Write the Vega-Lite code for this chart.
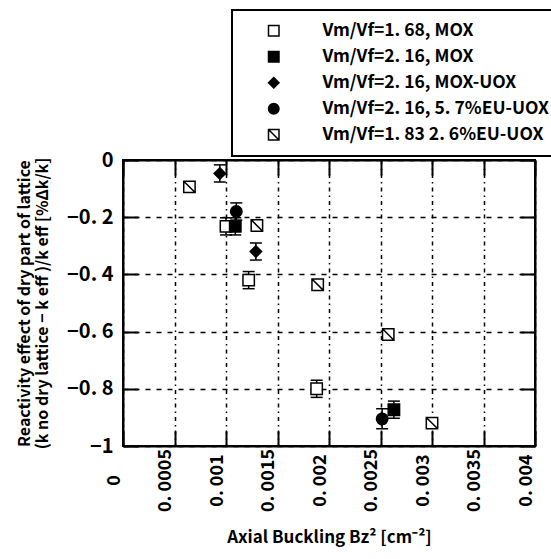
{
  "$schema": "https://vega.github.io/schema/vega-lite/v6.json",
  "autosize": {"type": "none"},
  "padding": {"left": 123, "top": 160, "right": 16, "bottom": 113},
  "width": 412,
  "height": 286,
  "background": "white",
  "config": {
    "view": {"stroke": "black", "strokeWidth": 2},
    "font": "Noto Sans CJK JP",
    "legend": {"strokeWidth": 2},
    "axis": {
      "labelFont": "Noto Sans CJK JP",
      "labelFontWeight": "bold",
      "labelColor": "black",
      "titleFont": "Noto Sans CJK JP",
      "titleFontWeight": "bold",
      "titleColor": "black",
      "domainColor": "black",
      "domainWidth": 2,
      "tickColor": "black",
      "tickWidth": 2,
      "gridColor": "black",
      "gridOpacity": 1
    }
  },
  "data": {
    "values": [
      {"series": "Vm/Vf=1. 68, MOX", "x": 0.00100, "y": -0.232, "lo": -0.262, "hi": -0.202},
      {"series": "Vm/Vf=1. 68, MOX", "x": 0.00122, "y": -0.420, "lo": -0.450, "hi": -0.390},
      {"series": "Vm/Vf=1. 68, MOX", "x": 0.00188, "y": -0.800, "lo": -0.830, "hi": -0.770},
      {"series": "Vm/Vf=2. 16, MOX", "x": 0.00109, "y": -0.232, "lo": -0.262, "hi": -0.202},
      {"series": "Vm/Vf=2. 16, MOX", "x": 0.00263, "y": -0.873, "lo": -0.903, "hi": -0.843},
      {"series": "Vm/Vf=2. 16,  MOX-UOX", "x": 0.00094, "y": -0.047, "lo": -0.077, "hi": -0.017},
      {"series": "Vm/Vf=2. 16,  MOX-UOX", "x": 0.00129, "y": -0.320, "lo": -0.350, "hi": -0.290},
      {"series": "Vm/Vf=2. 16, 5. 7%EU-UOX", "x": 0.00110, "y": -0.180, "lo": -0.210, "hi": -0.150},
      {"series": "Vm/Vf=2. 16, 5. 7%EU-UOX", "x": 0.002516, "y": -0.905, "lo": -0.940, "hi": -0.870},
      {"series": "Vm/Vf=1. 83 2. 6%EU-UOX", "x": 0.000645, "y": -0.094},
      {"series": "Vm/Vf=1. 83 2. 6%EU-UOX", "x": 0.00130, "y": -0.229},
      {"series": "Vm/Vf=1. 83 2. 6%EU-UOX", "x": 0.00189, "y": -0.436},
      {"series": "Vm/Vf=1. 83 2. 6%EU-UOX", "x": 0.002575, "y": -0.610},
      {"series": "Vm/Vf=1. 83 2. 6%EU-UOX", "x": 0.00300, "y": -0.920}
    ]
  },
  "resolve": {"axis": {"x": "independent", "y": "independent"}},
  "layer": [
    {
      "transform": [{"filter": "isValid(datum.lo)"}],
      "mark": {"type": "rule", "strokeWidth": 1.5, "color": "black"},
      "encoding": {
        "x": {"field": "x", "type": "quantitative", "scale": {"domain": [0, 0.004], "nice": false, "zero": false},
          "axis": {"orient": "top", "labels": false, "title": null, "grid": false, "tickSize": -15, "values": [0, 0.0005, 0.001, 0.0015, 0.002, 0.0025, 0.003, 0.0035, 0.004]}},
        "y": {"field": "lo", "type": "quantitative", "scale": {"domain": [-1, 0], "nice": false, "zero": false},
          "axis": {"orient": "right", "labels": false, "title": null, "grid": false, "tickSize": -15, "values": [-1, -0.8, -0.6, -0.4, -0.2, 0]}},
        "y2": {"field": "hi"}
      }
    },
    {
      "transform": [{"filter": "isValid(datum.lo)"}, {"fold": ["lo", "hi"], "as": ["end", "val"]}],
      "mark": {"type": "tick", "orient": "horizontal", "size": 12, "thickness": 1.5, "color": "black", "opacity": 1},
      "encoding": {
        "x": {"field": "x", "type": "quantitative", "axis": null},
        "y": {"field": "val", "type": "quantitative", "axis": null}
      }
    },
    {
      "mark": {"type": "point", "filled": false, "stroke": "black", "strokeWidth": 1.5, "size": 130, "opacity": 1},
      "encoding": {
        "x": {"field": "x", "type": "quantitative",
          "axis": {"orient": "bottom", "grid": true, "gridDash": [4, 4, 1.5, 4], "gridWidth": 1.5, "tickSize": -15,
            "values": [0, 0.0005, 0.001, 0.0015, 0.002, 0.0025, 0.003, 0.0035, 0.004],
            "labelExpr": "datum.value == 0 ? '0' : replace(format(datum.value, '.4~f'), '.', '. ')",
            "labelAngle": -90, "labelAlign": "center", "labelBaseline": "bottom", "labelPadding": 49,
            "labelFontSize": 18, "labelFlush": false, "labelOverlap": false,
            "title": "Axial Buckling Bz² [cm⁻²]", "titleFontSize": 17, "titlePadding": 18}},
        "y": {"field": "y", "type": "quantitative",
          "axis": {"orient": "left", "grid": true, "gridDash": [5, 6], "gridWidth": 1.5, "tickSize": -15,
            "values": [-1, -0.8, -0.6, -0.4, -0.2, 0],
            "labelExpr": "datum.value == 0 ? '0' : replace(format(datum.value, '.1~f'), '.', '. ')",
            "labelPadding": 25, "labelFontSize": 20, "labelFlush": false,
            "title": ["Reactivity effect of dry part of lattice", "(k no dry lattice − k eff )/k eff [%Δk/k]"],
            "titleFontSize": 16, "titlePadding": 16}},
        "shape": {"field": "series", "type": "nominal",
          "scale": {"domain": ["Vm/Vf=1. 68, MOX", "Vm/Vf=2. 16, MOX", "Vm/Vf=2. 16,  MOX-UOX", "Vm/Vf=2. 16, 5. 7%EU-UOX", "Vm/Vf=1. 83 2. 6%EU-UOX"],
            "range": ["square", "square", "diamond", "circle", "M-1,-1H1V1H-1Z M-1,-1L1,1"]},
          "legend": {"title": null}},
        "fill": {"field": "series", "type": "nominal",
          "scale": {"domain": ["Vm/Vf=1. 68, MOX", "Vm/Vf=2. 16, MOX", "Vm/Vf=2. 16,  MOX-UOX", "Vm/Vf=2. 16, 5. 7%EU-UOX", "Vm/Vf=1. 83 2. 6%EU-UOX"],
            "range": ["white", "black", "black", "black", "white"]},
          "legend": {"title": null, "orient": "none", "legendX": 109, "legendY": -150,
            "strokeColor": "black", "fillColor": "white", "padding": 12,
            "symbolOffset": 21, "symbolSize": 110, "symbolStrokeWidth": 1.5, "symbolStrokeColor": "black",
            "labelFont": "Noto Sans CJK JP", "labelFontWeight": "bold", "labelFontSize": 17.5, "labelColor": "black",
            "labelOffset": 40, "rowPadding": 7, "labelLimit": 400}}
      }
    }
  ]
}
